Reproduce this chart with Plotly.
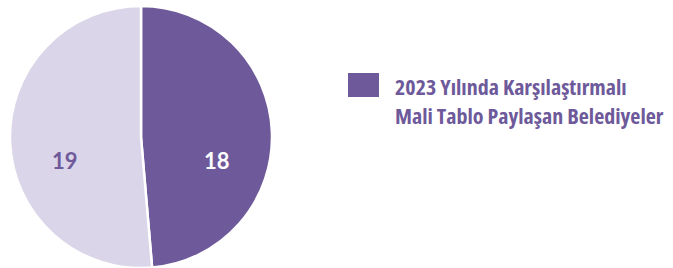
import math
import plotly.graph_objects as go

labels = ["2023 Yılında Karşılaştırmalı Mali Tablo Paylaşan Belediyeler", "Diğer"]
values = [18, 19]
colors = ["#6E5A9A", "#DAD5E8"]
text_colors = ["#FFFFFF", "#6E5A9A"]
legend_lines = ["2023 Yılında Karşılaştırmalı", "Mali Tablo Paylaşan Belediyeler"]

W, H = 673, 268
cx, cy, R = 141, 137, 131  # pie centre/radius in px (layout)

fig = go.Figure()
fig.add_trace(go.Pie(
    labels=labels, values=values, sort=False, direction="clockwise", rotation=0,
    marker=dict(colors=colors, line=dict(color="white", width=2.5)),
    textinfo="none",
    domain=dict(x=[(cx - R) / W, (cx + R) / W], y=[1 - (cy + R) / H, 1 - (cy - R) / H]),
    showlegend=False, hoverinfo="skip",
))

# value labels: horizontal position from slice mid-angle, slightly below centre line
total = sum(values)
start = 0.0
for v, tc in zip(values, text_colors):
    mid = (start + v / 2) / total * 2 * math.pi
    start += v
    px = cx + 0.58 * R * math.sin(mid)
    py = cy + 0.18 * R
    fig.add_annotation(xref="paper", yref="paper", x=px / W, y=1 - py / H,
                       xanchor="center", yanchor="middle",
                       text=f"<b>{v}</b>", showarrow=False,
                       font=dict(family="Lato", size=22, color=tc, weight=900))

# legend
fig.add_shape(type="rect", xref="paper", yref="paper",
              x0=348 / W, x1=379 / W, y0=1 - 97 / H, y1=1 - 73 / H,
              fillcolor=colors[0], line=dict(width=0))
for i, line in enumerate(legend_lines):
    fig.add_annotation(xref="paper", yref="paper", x=393 / W, y=1 - (86 + 29 * i) / H,
                       text=f"<span style='font-stretch:85%'>{line}</span>",
                       showarrow=False, xanchor="left", yanchor="middle",
                       font=dict(family="Open Sans", size=22, color=colors[0], weight=700))

fig.update_layout(width=W, height=H, margin=dict(l=0, r=0, t=0, b=0),
                  paper_bgcolor="white", plot_bgcolor="white")
fig.write_html("out.html", config={"displayModeBar": False},
               post_script="document.body.style.margin='0';")
